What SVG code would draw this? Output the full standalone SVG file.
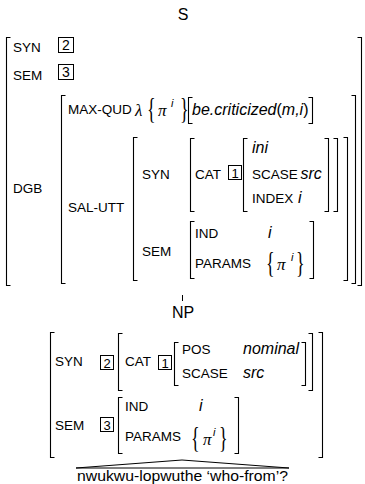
<svg xmlns="http://www.w3.org/2000/svg" width="365" height="484" viewBox="0 0 365 484">
<style>
.l{font-family:"Liberation Sans",Arial,sans-serif;font-size:13.5px;fill:#000}
.c{font-family:"Liberation Sans",Arial,sans-serif;font-size:16px;fill:#000;text-anchor:middle}
.v{font-family:"Liberation Sans",Arial,sans-serif;font-size:16px;font-style:italic;fill:#000}
.u{font-style:normal}
.m{font-family:"Liberation Serif","DejaVu Serif",serif;font-style:italic;font-size:17px;fill:#000}
.s{font-family:"Liberation Sans",Arial,sans-serif;font-style:italic;font-size:11px;fill:#000}
.br{font-family:"Liberation Serif","DejaVu Serif",serif;font-size:30px;fill:#000}
.n{font-family:"Liberation Sans",Arial,sans-serif;font-size:13px;text-anchor:middle;fill:#000}
.b{fill:none;stroke:#000;stroke-width:1.1}
.bx{fill:none;stroke:#000;stroke-width:1}
.e{fill:none;stroke:#000;stroke-width:1}
</style>
<g id="S">
<text class="c" x="183" y="20">S</text>
<path class="b" d="M10.5 37.5H6.5V285.5H10.5M357.5 37.5H361.5V285.5H357.5"/>
<text class="l" x="13" y="52">SYN</text>
<rect class="bx" x="58.5" y="37.5" width="15" height="15"/><text class="n" x="66" y="50" style="font-size:14px">2</text>
<text class="l" x="13" y="80">SEM</text>
<rect class="bx" x="58.5" y="64.5" width="15" height="15"/><text class="n" x="66" y="77" style="font-size:14px">3</text>
<text class="l" x="13" y="193">DGB</text>
<path class="b" d="M65.5 95.5H61.5V283.5H65.5M351.5 95.5H355.5V283.5H351.5"/>
<text class="l" x="68" y="114">MAX-QUD</text>
<text class="m" x="135" y="116">λ</text>
<text class="br" transform="translate(147,118) scale(0.6,1)">{</text>
<text class="m" x="158" y="116">π</text>
<text class="s" x="171" y="107">i</text>
<text class="br" transform="translate(180,118) scale(0.6,1)">}</text>
<path class="b" d="M192.5 97.5H188.5V123.5H192.5M308.5 97.5H312.5V123.5H308.5"/>
<text class="v" x="192" y="115">be.criticized<tspan class="u">(</tspan>m,i<tspan class="u">)</tspan></text>
<text class="l" x="68" y="212">SAL-UTT</text>
<path class="b" d="M137.5 137.5H133.5V280.5H137.5M343.5 137.5H347.5V280.5H343.5"/>
<text class="l" x="142" y="179">SYN</text>
<path class="b" d="M194.5 138.5H190.5V211.5H194.5M333.5 138.5H337.5V211.5H333.5"/>
<text class="l" x="195" y="179">CAT</text>
<rect class="bx" x="228.5" y="165.5" width="13" height="14"/><text class="n" x="235" y="177.5">1</text>
<path class="b" d="M247.5 138.5H243.5V211.5H247.5M324.5 138.5H328.5V211.5H324.5"/>
<text class="v" x="252" y="153">ini</text>
<text class="l" x="252" y="179">SCASE <tspan class="v" dx="-1">src</tspan></text>
<text class="l" x="252" y="203">INDEX <tspan class="v" dx="1">i</tspan></text>
<text class="l" x="142" y="256">SEM</text>
<path class="b" d="M194.5 221.5H190.5V278.5H194.5M309.5 221.5H313.5V278.5H309.5"/>
<text class="l" x="195" y="238">IND</text>
<text class="v" x="268" y="238">i</text>
<text class="l" x="195" y="268">PARAMS</text>
<text class="br" transform="translate(266,272) scale(0.6,1)">{</text>
<text class="m" x="277" y="270">π</text>
<text class="s" x="291" y="261">i</text>
<text class="br" transform="translate(296,272) scale(0.6,1)">}</text>
</g>
<g id="NP">
<text class="c" x="183" y="318">NP</text>
<path class="b" d="M54.5 332.5H50.5V457.5H54.5M318.5 332.5H322.5V457.5H318.5"/>
<text class="l" x="55" y="366">SYN</text>
<rect class="bx" x="100.5" y="355.5" width="13" height="14"/><text class="n" x="107" y="367.5">2</text>
<path class="b" d="M122.5 333.5H118.5V390.5H122.5M308.5 333.5H312.5V390.5H308.5"/>
<text class="l" x="125" y="366">CAT</text>
<rect class="bx" x="158.5" y="355.5" width="13" height="14"/><text class="n" x="165" y="367.5">1</text>
<path class="b" d="M178.5 342.5H174.5V385.5H178.5M301.5 342.5H305.5V385.5H301.5"/>
<text class="l" x="182" y="354">POS</text>
<text class="v" x="243" y="354">nominal</text>
<text class="l" x="182" y="378">SCASE</text>
<text class="v" x="243" y="378">src</text>
<text class="l" x="55" y="430">SEM</text>
<rect class="bx" x="100.5" y="417.5" width="13" height="14"/><text class="n" x="107" y="429.5">3</text>
<path class="b" d="M122.5 397.5H118.5V453.5H122.5M234.5 397.5H238.5V453.5H234.5"/>
<text class="l" x="125" y="411">IND</text>
<text class="v" x="199" y="411">i</text>
<text class="l" x="125" y="441">PARAMS</text>
<text class="br" transform="translate(191,447) scale(0.6,1)">{</text>
<text class="m" x="203" y="445">π</text>
<text class="s" x="213" y="436">i</text>
<text class="br" transform="translate(219,447) scale(0.6,1)">}</text>
</g>
<g id="leaf">
<text class="l" x="77" y="481" style="font-size:15.5px" textLength="211" lengthAdjust="spacingAndGlyphs">nwukwu-lopwuthe ‘who-from’?</text>
</g>
<g id="connectors">
<line class="e" x1="182.5" y1="295" x2="182.5" y2="301"/>
<path class="e" d="M76 468L182 460L289 468Z"/>
</g>
</svg>
